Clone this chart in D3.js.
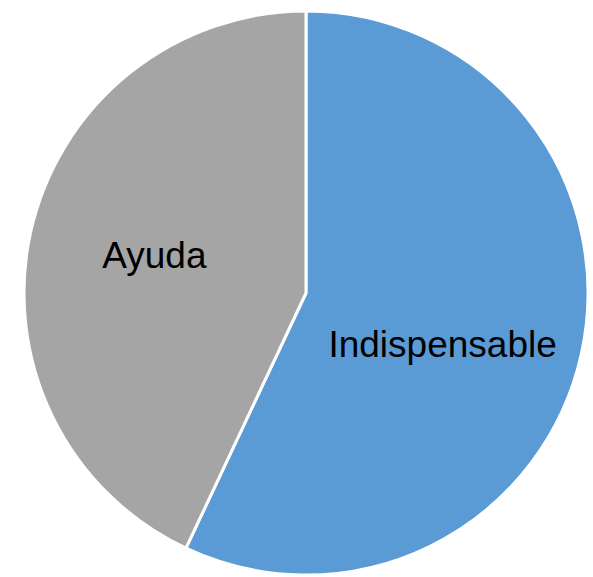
<!DOCTYPE html>
<html>
<head>
<meta charset="utf-8">
<script src="https://cdn.jsdelivr.net/npm/d3@7"></script>
<style>
  html, body { margin: 0; padding: 0; background: #fff; }
  svg { display: block; }
</style>
</head>
<body>
<svg id="chart" width="593" height="577"></svg>
<script>
const categories = ["Indispensable", "Ayuda"];
const values = [57, 43];
const colors = ["#5B9BD5", "#A5A5A5"];

const width = 593, height = 577;
const cx = 306, cy = 293, radius = 282;
// label nudges relative to the slice centroid (layout only)
const labelNudge = [[-1, 33], [-14, 6]];

const svg = d3.select("#chart");
const g = svg.append("g").attr("transform", `translate(${cx},${cy})`);

const data = categories.map((c, i) => ({ category: c, value: values[i], color: colors[i] }));

const pie = d3.pie().sort(null).value(d => d.value).startAngle(0).endAngle(2 * Math.PI);
const arcs = pie(data);
const arc = d3.arc().innerRadius(0).outerRadius(radius);
const labelArc = d3.arc().innerRadius(radius * 0.5).outerRadius(radius * 0.5);

g.selectAll("path.slice")
  .data(arcs)
  .enter().append("path")
  .attr("class", "slice")
  .attr("d", arc)
  .attr("fill", d => d.data.color)
  .attr("stroke", "#fff")
  .attr("stroke-width", 3)
  .attr("stroke-linejoin", "round");

g.selectAll("text.lbl")
  .data(arcs)
  .enter().append("text")
  .attr("class", "lbl")
  .attr("x", (d, i) => labelArc.centroid(d)[0] + labelNudge[i][0])
  .attr("y", (d, i) => labelArc.centroid(d)[1] + labelNudge[i][1])
  .attr("text-anchor", "middle")
  .attr("font-family", "Liberation Sans, Arial, sans-serif")
  .attr("font-size", 37)
  .attr("fill", "#000")
  .text(d => d.data.category);
</script>
</body>
</html>
